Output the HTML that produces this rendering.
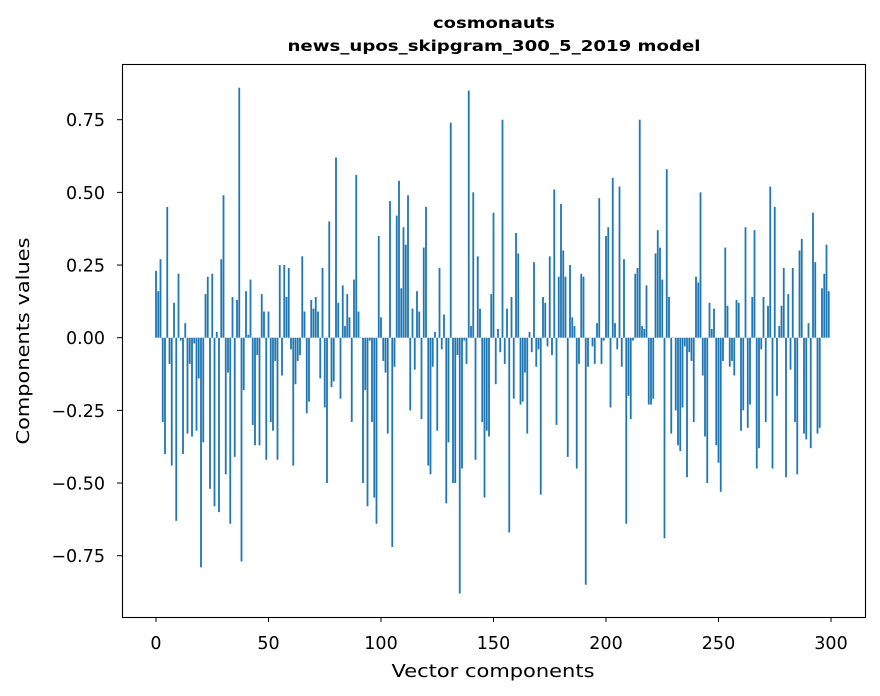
<!DOCTYPE html>
<html><head><meta charset="utf-8"><style>
html,body{margin:0;padding:0;background:#fff;}
svg{display:block;font-family:"DejaVu Sans","Liberation Sans",sans-serif;}
</style></head><body>
<svg id="s" width="880" height="696" viewBox="0 0 880 696" xmlns="http://www.w3.org/2000/svg">
<rect width="880" height="696" fill="#fff"/>
<text x="494" y="28" text-anchor="middle" font-size="15" font-weight="bold" textLength="122" lengthAdjust="spacingAndGlyphs">cosmonauts</text>
<text x="494" y="51" text-anchor="middle" font-size="15" font-weight="bold" textLength="413" lengthAdjust="spacingAndGlyphs">news_upos_skipgram_300_5_2019 model</text>
<g id="bars" fill="#1f77b4"></g>
<rect x="122.5" y="64.5" width="743" height="553" fill="none" stroke="#000" stroke-width="1.1"/>
<g id="ticks" stroke="#000" stroke-width="1"></g>
<g id="labels" font-size="17.5" fill="#000"></g>
<text x="493" y="677" text-anchor="middle" font-size="18" textLength="203" lengthAdjust="spacingAndGlyphs">Vector components</text>
<text transform="translate(29,341) rotate(-90)" text-anchor="middle" font-size="18" textLength="207" lengthAdjust="spacingAndGlyphs">Components values</text>
</svg>
<script>
var v=[0.23,0.16,0.27,-0.29,-0.40,0.45,-0.09,-0.44,0.12,-0.63,0.22,-0.01,-0.40,0.05,-0.33,-0.09,-0.34,-0.02,-0.32,-0.14,
-0.79,-0.36,0.15,0.21,-0.52,0.22,-0.58,0.02,-0.60,0.27,0.49,-0.47,-0.12,-0.64,0.14,-0.41,0.13,0.86,-0.77,-0.18,
0.16,0.01,0.20,-0.30,-0.37,-0.06,-0.37,0.15,0.09,-0.42,0.09,-0.29,-0.32,-0.08,-0.42,0.25,-0.13,0.25,0.14,0.24,
-0.04,-0.44,-0.16,-0.08,-0.06,0.28,0.09,-0.26,-0.22,0.13,0.10,0.14,0.09,-0.14,0.24,-0.24,-0.50,0.40,-0.17,-0.15,
0.62,0.12,-0.21,0.18,0.04,0.15,0.07,-0.29,0.20,0.56,0.09,0.00,-0.50,-0.18,-0.58,-0.01,-0.29,-0.55,-0.64,0.35,
0.07,-0.08,-0.12,-0.33,0.47,-0.72,-0.10,0.42,0.54,0.17,0.38,0.32,0.49,-0.25,0.10,-0.11,0.16,0.09,-0.28,0.31,
0.45,-0.44,-0.47,-0.10,0.02,-0.32,0.24,-0.04,0.08,-0.57,-0.36,0.74,-0.50,-0.50,-0.06,-0.88,-0.45,-0.01,-0.09,0.85,
0.04,0.50,-0.42,0.28,0.10,-0.29,-0.55,-0.32,-0.34,0.15,0.43,-0.16,0.03,-0.05,0.75,-0.09,0.10,-0.67,0.14,-0.21,
0.36,0.29,-0.23,-0.22,-0.12,-0.33,0.02,-0.05,0.26,-0.10,-0.04,-0.54,0.14,0.12,-0.03,0.28,-0.06,0.51,-0.30,0.21,
0.46,0.30,0.21,-0.41,0.25,0.07,0.04,-0.45,-0.09,0.22,0.21,-0.85,-0.10,0.00,-0.03,-0.09,0.05,0.48,-0.09,-0.01,
0.35,0.38,-0.24,0.55,0.05,-0.04,0.52,-0.10,0.27,-0.64,-0.20,-0.28,-0.01,0.22,0.24,0.75,0.04,0.03,0.18,-0.23,
-0.23,-0.21,0.29,0.37,0.31,0.20,-0.69,0.58,0.14,-0.33,0.00,-0.25,-0.37,-0.39,-0.24,-0.03,-0.48,-0.05,-0.08,-0.29,
0.21,0.19,0.50,-0.13,-0.34,-0.50,0.12,0.03,0.10,-0.37,-0.43,-0.53,-0.08,0.31,0.11,-0.10,-0.08,-0.13,0.13,0.12,
-0.32,-0.25,0.38,-0.31,-0.23,0.14,0.37,-0.45,-0.38,-0.04,0.14,-0.29,0.11,0.52,-0.45,0.45,-0.20,0.04,0.11,0.24,
-0.48,0.15,-0.11,0.24,-0.29,-0.47,0.30,0.34,-0.33,-0.35,0.05,-0.38,0.43,0.26,-0.33,-0.31,0.17,0.22,0.32,0.16];
var NS="http://www.w3.org/2000/svg",b=document.getElementById("bars"),Y0=337.7,K=290.67;
for(var i=0;i<v.length;i++){var r=document.createElementNS(NS,"rect");var h=v[i]*K;
r.setAttribute("x",(156+2.25*i-0.9).toFixed(2));r.setAttribute("width","1.8");
r.setAttribute("y",(h>=0?Y0-h:Y0).toFixed(2));r.setAttribute("height",Math.max(Math.abs(h),0.3).toFixed(2));b.appendChild(r);}
var t=document.getElementById("ticks"),l=document.getElementById("labels");
function ln(x1,y1,x2,y2){var e=document.createElementNS(NS,"line");e.setAttribute("x1",x1);e.setAttribute("y1",y1);e.setAttribute("x2",x2);e.setAttribute("y2",y2);t.appendChild(e);}
function tx(x,y,s,a){var e=document.createElementNS(NS,"text");e.setAttribute("x",x);e.setAttribute("y",y);e.setAttribute("text-anchor",a);e.textContent=s;l.appendChild(e);}
for(var k=0;k<=6;k++){var x=156+112.5*k;ln(x,617,x,622);tx(x,649,String(50*k),"middle");}
var yl=["0.75","0.50","0.25","0.00","\u22120.25","\u22120.50","\u22120.75"];
for(var k=0;k<7;k++){var y=Y0+(k-3)*0.25*K;ln(117,y,122,y);tx(105,y+6.5,yl[k],"end");}
</script>
</body></html>
